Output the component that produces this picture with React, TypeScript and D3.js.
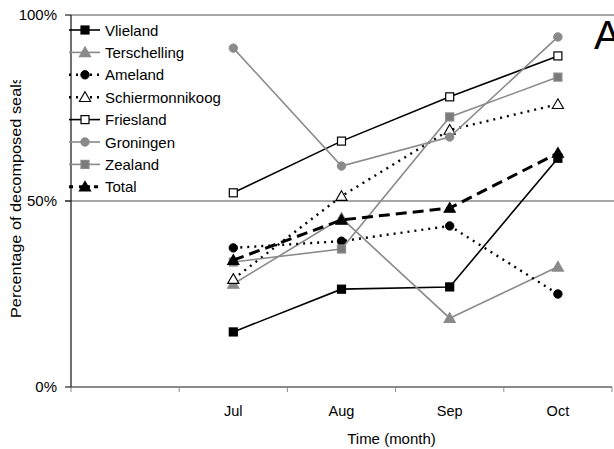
import React from "react";
import * as d3 from "d3";

// values in percent
const months = ["", "Jul", "Aug", "Sep", "Oct"];
const points = ["Jul", "Aug", "Sep", "Oct"];
const vlieland = [14.8, 26.3, 26.9, 61.5];
const terschelling = [27.7, 45.4, 18.5, 32.3];
const ameland = [37.4, 39.2, 43.3, 25.0];
const schiermonnikoog = [29.0, 51.3, 69.1, 76.0];
const friesland = [52.2, 66.1, 78.0, 89.0];
const groningen = [91.1, 59.4, 67.2, 94.1];
const zealand = [33.6, 37.1, 72.6, 83.3];
const total = [34.1, 44.9, 48.1, 62.9];
const yTicks = [0, 50, 100];

const GREY = "#8a8a8a";

const series = [
  { name: "Vlieland", values: vlieland, color: "#000", dash: null, width: 1.6, shape: "square", fill: "#000" },
  { name: "Terschelling", values: terschelling, color: GREY, dash: null, width: 1.6, shape: "triangle", fill: GREY },
  { name: "Ameland", values: ameland, color: "#000", dash: "2,5", width: 2.4, shape: "circle", fill: "#000" },
  { name: "Schiermonnikoog", values: schiermonnikoog, color: "#000", dash: "2,5", width: 2.4, shape: "triangle", fill: "#fff" },
  { name: "Friesland", values: friesland, color: "#000", dash: null, width: 1.6, shape: "square", fill: "#fff" },
  { name: "Groningen", values: groningen, color: GREY, dash: null, width: 1.6, shape: "circle", fill: GREY },
  { name: "Zealand", values: zealand, color: GREY, dash: null, width: 1.6, shape: "square", fill: "#7a7a7a" },
  { name: "Total", values: total, color: "#000", dash: "11,6", width: 3, shape: "triangle", fill: "#000" },
];

const W = 614;
const H = 449;
const left = 71;
const right = 612;
const top = 15;
const bottom = 387;

const Marker = ({ shape, x, y, fill, stroke }) => {
  if (shape === "square") {
    return <rect x={x - 4} y={y - 4} width={8} height={8} fill={fill} stroke={stroke} strokeWidth={1.2} />;
  }
  if (shape === "circle") {
    return <circle cx={x} cy={y} r={4.2} fill={fill} stroke={stroke} strokeWidth={1} />;
  }
  const tri = d3.symbol(d3.symbolTriangle, 55)();
  return <path d={tri} transform={`translate(${x},${y + 1})`} fill={fill} stroke={stroke} strokeWidth={1.1} />;
};

export default function App() {
  const x = d3.scaleBand().domain(months).range([left, right]);
  const y = d3.scaleLinear().domain([0, 100]).range([bottom, top]);
  const cx = (m) => x(m) + x.bandwidth() / 2;

  const line = d3
    .line()
    .x((d, i) => cx(points[i]))
    .y((d) => y(d));

  const font = "Liberation Sans, Arial, sans-serif";
  const edges = months.map((m) => x(m)).concat([right]);

  return (
    <div style={{ position: "fixed", left: 0, top: 0 }}>
      <svg width={W} height={H} style={{ display: "block", background: "#fff" }} fontFamily={font}>
        <defs>
          <clipPath id="titleClip">
            <rect x={0} y={80} width={40} height={300} />
          </clipPath>
        </defs>

        {/* gridlines / frame */}
        <line x1={left} x2={W} y1={top} y2={top} stroke={GREY} strokeWidth={1.5} />
        <line x1={65} x2={W} y1={y(50)} y2={y(50)} stroke={GREY} strokeWidth={1.5} />
        <line x1={left} x2={right} y1={bottom} y2={bottom} stroke={GREY} strokeWidth={2} />
        {edges.map((e, i) => (
          <line key={i} x1={e} x2={e} y1={bottom} y2={bottom + 5} stroke={GREY} strokeWidth={1} />
        ))}
        <line x1={left} x2={left} y1={top} y2={bottom} stroke="#222" strokeWidth={1.3} />
        {yTicks.map((t) => (
          <g key={t}>
            <line x1={65} x2={left} y1={y(t)} y2={y(t)} stroke="#222" strokeWidth={1.2} />
            <text x={57} y={y(t) + 5} textAnchor="end" fontSize={15}>
              {t + "%"}
            </text>
          </g>
        ))}
        {points.map((m) => (
          <text key={m} x={cx(m)} y={416} textAnchor="middle" fontSize={14.5}>
            {m}
          </text>
        ))}
        <text x={(left + right) / 2 + 50} y={444} textAnchor="middle" fontSize={15}>
          Time (month)
        </text>
        <g clipPath="url(#titleClip)">
          <text
            transform="translate(20.5,318) rotate(-90)"
            fontSize={15.5}
            textLength={242}
            lengthAdjust="spacingAndGlyphs"
          >
            Percentage of decomposed seals
          </text>
        </g>

        {/* series */}
        {series.map((s) => (
          <g key={s.name}>
            <path
              d={line(s.values)}
              fill="none"
              stroke={s.color}
              strokeWidth={s.width}
              strokeDasharray={s.dash || undefined}
            />
            {s.values.map((v, i) => (
              <Marker key={i} shape={s.shape} x={cx(points[i])} y={y(v)} fill={s.fill} stroke={s.color} />
            ))}
          </g>
        ))}

        {/* legend */}
        {series.map((s, i) => {
          const ly = 30 + i * 22.4;
          return (
            <g key={s.name}>
              <line
                x1={69}
                x2={100}
                y1={ly}
                y2={ly}
                stroke={s.color}
                strokeWidth={s.width}
                strokeDasharray={s.dash ? (s.name === "Total" ? "4,6,11,4" : "2,5") : undefined}
              />
              <Marker shape={s.shape} x={85} y={ly} fill={s.fill} stroke={s.color} />
              <text x={105} y={ly + 5.5} fontSize={15}>
                {s.name}
              </text>
            </g>
          );
        })}

        <text x={594} y={49} fontSize={40}>
          A
        </text>
      </svg>
    </div>
  );
}
